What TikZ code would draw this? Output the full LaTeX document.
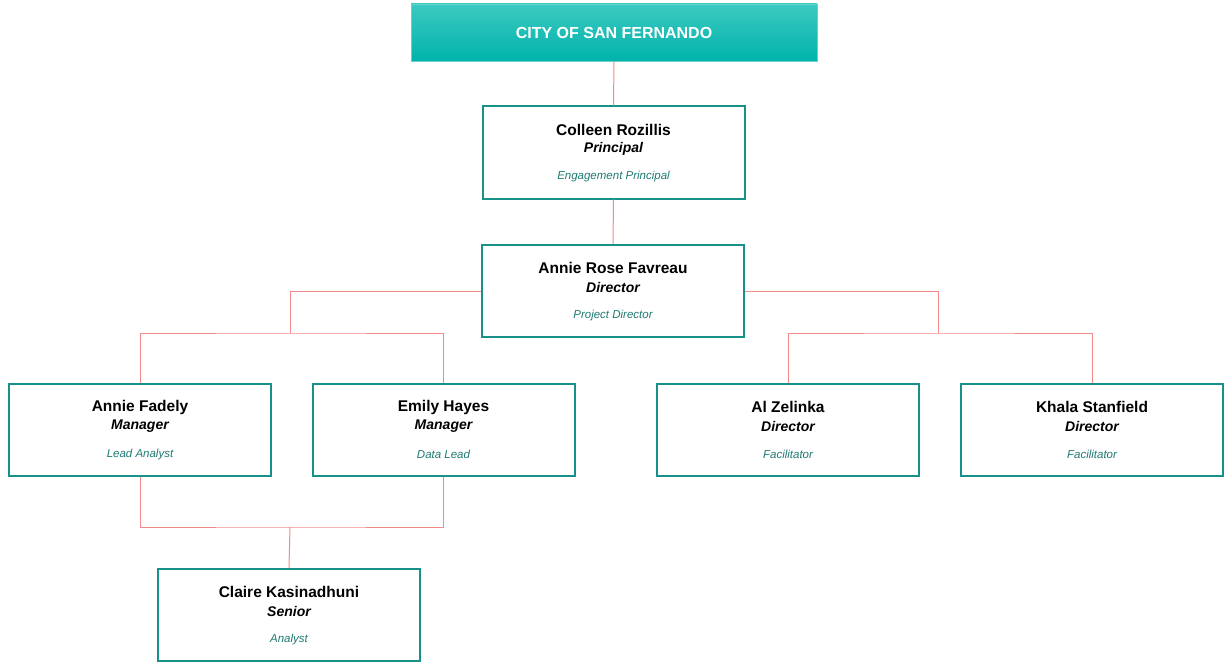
\documentclass[tikz,border=0pt]{standalone}
\usepackage{fontspec}
\setmainfont{Liberation Sans}
\definecolor{boxline}{HTML}{17918A}
\definecolor{subtxt}{HTML}{1F7A73}
\definecolor{conn}{HTML}{F28A8A}
\definecolor{topA}{HTML}{3CC9C1}
\definecolor{topB}{HTML}{00B3AB}
\begin{document}
\begin{tikzpicture}[x=1pt,y=-1pt,
  person/.style={draw=boxline,line width=2pt,fill=white,minimum width=262pt,minimum height=92pt,inner sep=0pt},
  link/.style={draw=conn,line width=1pt},
  nm/.style={font=\fontsize{15.5}{17}\selectfont\bfseries},
  rl/.style={font=\fontsize{14}{16}\selectfont\bfseries\itshape},
  sb/.style={font=\fontsize{11.5}{13}\selectfont\itshape,text=subtxt}]
\useasboundingbox (0,0) rectangle (1225,663);
\newcommand{\pbox}[5]{%
  \node[person] (#1) at (#2) {};
  \node[nm] at ([yshift=-24pt]#1.north) {#3};
  \node[rl] at ([yshift=-43pt]#1.north) {#4};
  \node[sb] at ([yshift=-71.5pt]#1.north) {#5};
}
\node[draw=topA!80!white,top color=topA,bottom color=topB,minimum width=406pt,minimum height=57pt,inner sep=0pt,text=white,font=\fontsize{16}{18}\selectfont\bfseries] (city) at (614,32.5) {CITY OF SAN FERNANDO};
\pbox{colleen}{613.5,152.5}{Colleen Rozillis}{Principal}{Engagement Principal}
\pbox{annierose}{613,291}{Annie Rose Favreau}{Director}{Project Director}
\pbox{fadely}{140,430}{Annie Fadely}{Manager}{Lead Analyst}
\pbox{emily}{443.5,430}{Emily Hayes}{Manager}{Data Lead}
\pbox{zelinka}{788,430}{Al Zelinka}{Director}{Facilitator}
\pbox{khala}{1092,430}{Khala Stanfield}{Director}{Facilitator}
\pbox{claire}{289,615}{Claire Kasinadhuni}{Senior}{Analyst}
\coordinate (lj) at (290,333);
\coordinate (rj) at (938,333);
\coordinate (bj) at (290,527);
\draw[link] (city.south) -- (colleen.north);
\draw[link] (colleen.south) -- (annierose.north);
\draw[link] (annierose.west) -| (lj);
\draw[link] (annierose.east) -| (rj);
\draw[link] (fadely.north) |- (lj) -| (emily.north);
\draw[link] (zelinka.north) |- (rj) -| (khala.north);
\draw[link] (fadely.south) |- (bj) -| (emily.south);
\draw[link] (bj) -- (claire.north);
\end{tikzpicture}
\end{document}
